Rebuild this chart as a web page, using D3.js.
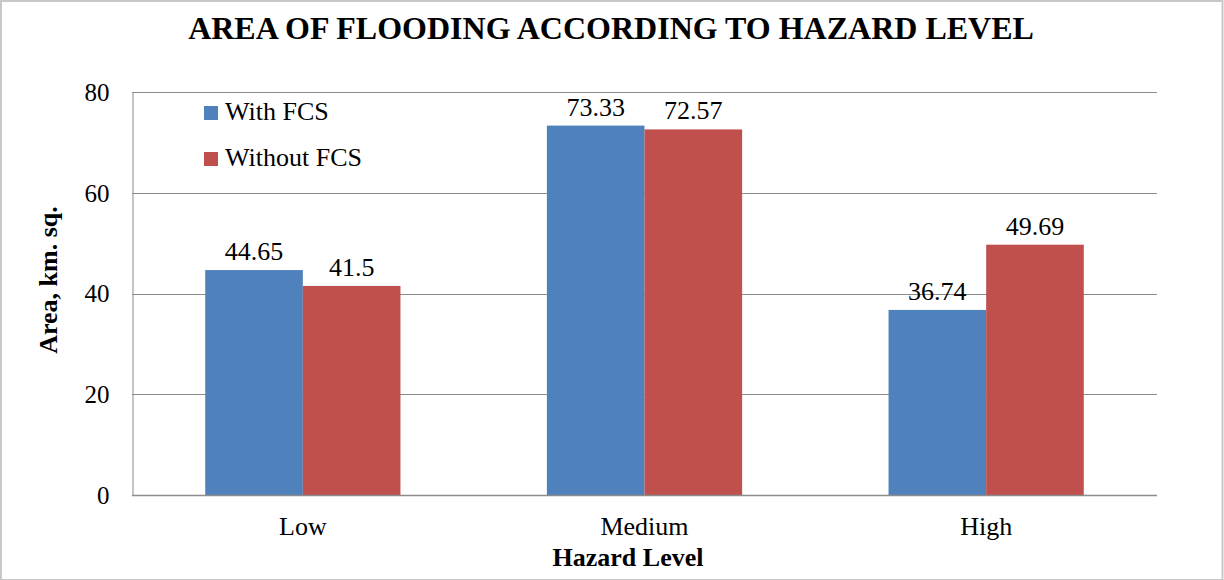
<!DOCTYPE html>
<html>
<head>
<meta charset="utf-8">
<script src="https://cdn.jsdelivr.net/npm/d3@7"></script>
<style>
  html, body { margin: 0; padding: 0; background: #fff; }
  svg { display: block; }
  text { font-family: "Liberation Serif", "Times New Roman", serif; fill: #000; }
</style>
</head>
<body>
<svg id="chart" width="1224" height="580" font-family="Liberation Serif"></svg>
<script>
// Flooded area (km²) per hazard level, with and without flood control structures
const categories = ["Low", "Medium", "High"];
const seriesNames = ["With FCS", "Without FCS"];
const withFCS = [44.65, 73.33, 36.74];
const withoutFCS = [41.5, 72.57, 49.69];
const yTicks = [0, 20, 40, 60, 80];
const colors = ["#4F81BD", "#C0504D"];

const svg = d3.select("#chart");
const W = 1224, H = 580;
const plot = { left: 132, right: 1157, top: 92, bottom: 495 };

// outer frame
svg.append("rect")
  .attr("x", 1).attr("y", 1).attr("width", W - 2.5).attr("height", H - 1)
  .attr("fill", "#fff").attr("stroke", "#c8c8c8").attr("stroke-width", 2);

const x = d3.scaleBand().domain(categories).range([plot.left, plot.right]);
// Gap width 150%: each bar = band / 3.5
const barW = x.bandwidth() / 3.5;
const y = d3.scaleLinear().domain([0, 80]).range([plot.bottom, plot.top]);

// gridlines
svg.append("g").selectAll("line").data(yTicks).join("line")
  .attr("x1", plot.left).attr("x2", plot.right)
  .attr("y1", d => Math.round(y(d)) + 0.5).attr("y2", d => Math.round(y(d)) + 0.5)
  .attr("stroke", "#8c8c8c").attr("stroke-width", 1);

// y axis
const yAxis = d3.axisLeft(y).tickValues(yTicks).tickSize(0).tickPadding(23);
const gy = svg.append("g").attr("transform", `translate(${plot.left + 0.5},0)`).call(yAxis)
  .attr("font-family", "Liberation Serif").attr("font-size", 25);
gy.select(".domain").attr("stroke", "#8c8c8c");
gy.selectAll("text").attr("fill", "#000").attr("dy", "0.33em");

// bars
const data = categories.map((c, i) => ({ cat: c, vals: [withFCS[i], withoutFCS[i]] }));
const groups = svg.append("g").selectAll("g").data(data).join("g")
  .attr("transform", d => `translate(${x(d.cat) + x.bandwidth() / 2 - barW},0)`);

groups.selectAll("rect").data(d => d.vals.map((v, j) => ({ v, j }))).join("rect")
  .attr("x", d => d.j * barW)
  .attr("y", d => y(d.v))
  .attr("width", barW)
  .attr("height", d => y(0) - y(d.v))
  .attr("fill", d => colors[d.j]);

groups.selectAll("text.lbl").data(d => d.vals.map((v, j) => ({ v, j }))).join("text")
  .attr("class", "lbl")
  .attr("x", d => d.j * barW + barW / 2)
  .attr("y", d => y(d.v) - 10)
  .attr("text-anchor", "middle")
  .attr("font-size", 26)
  .text(d => d.v);

// x axis baseline
svg.append("line")
  .attr("x1", plot.left).attr("x2", plot.right)
  .attr("y1", plot.bottom + 0.5).attr("y2", plot.bottom + 0.5)
  .attr("stroke", "#8c8c8c").attr("stroke-width", 1.5);

const xAxis = d3.axisBottom(x).tickSize(0).tickPadding(0);
const gx = svg.append("g").attr("transform", `translate(0,${plot.bottom})`).call(xAxis)
  .attr("font-family", "Liberation Serif").attr("font-size", 26);
gx.select(".domain").remove();
gx.selectAll("text").attr("fill", "#000").attr("y", 40).attr("dy", null);

// titles
svg.append("text").attr("x", 611).attr("y", 39).attr("text-anchor", "middle")
  .attr("font-size", 32).attr("font-weight", "bold")
  .text("AREA OF FLOODING ACCORDING TO HAZARD LEVEL");

svg.append("text").attr("x", 628).attr("y", 566).attr("text-anchor", "middle")
  .attr("font-size", 26).attr("font-weight", "bold").text("Hazard Level");

svg.append("text").attr("transform", "translate(57,280) rotate(-90)")
  .attr("text-anchor", "middle").attr("font-size", 26).attr("font-weight", "bold")
  .text("Area, km. sq.");

// legend
const legend = svg.append("g").attr("transform", "translate(204,106)");
const items = legend.selectAll("g").data(seriesNames).join("g")
  .attr("transform", (d, i) => `translate(0,${i * 46})`);
items.append("rect").attr("width", 14).attr("height", 14).attr("fill", (d, i) => colors[i]);
items.append("text").attr("x", 21).attr("y", 14).attr("font-size", 26).text(d => d);
</script>
</body>
</html>
